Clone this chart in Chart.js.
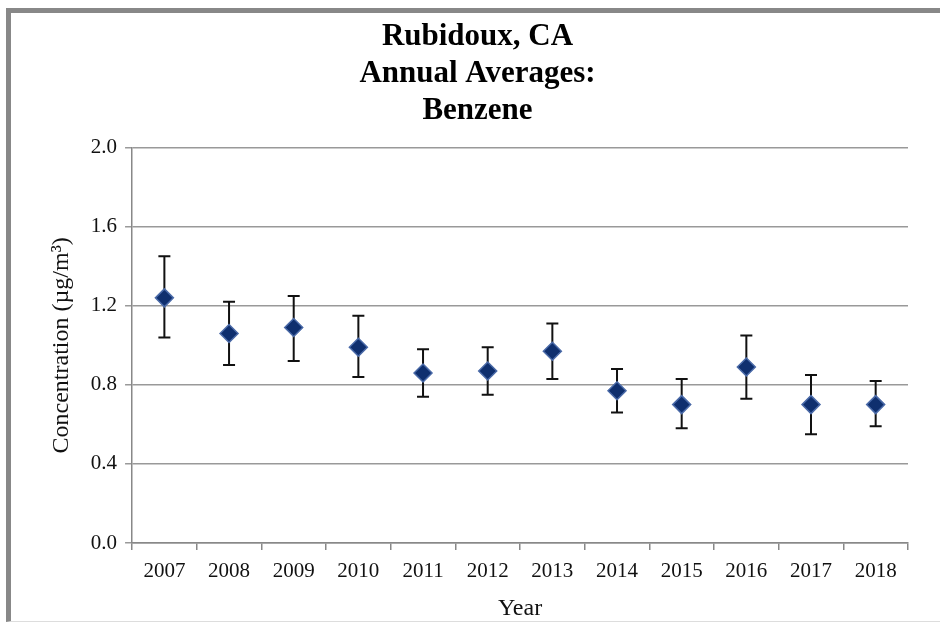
<!DOCTYPE html>
<html>
<head>
<meta charset="utf-8">
<script src="https://cdn.jsdelivr.net/npm/chart.js@4/dist/chart.umd.min.js"></script>
<style>
  html, body { margin: 0; padding: 0; background: #fff; }
  #frame {
    position: absolute; left: 6px; top: 8px; width: 934px; height: 614px;
    border-left: 5px solid #888; border-top: 5px solid #888;
    border-bottom: 1px solid #ddd; box-sizing: border-box;
  }
  #wrap { position: absolute; left: 0; top: 0; width: 940px; height: 626px; }
</style>
</head>
<body>
<div id="frame"></div>
<div id="wrap"><canvas id="myChart" width="940" height="626"></canvas></div>
<script>
// values
const years = ['2007', '2008', '2009', '2010', '2011', '2012', '2013', '2014', '2015', '2016', '2017', '2018'];
const means = [1.24, 1.06, 1.09, 0.99, 0.86, 0.87, 0.97, 0.77, 0.70, 0.89, 0.70, 0.70];
const lows  = [1.04, 0.90, 0.92, 0.84, 0.74, 0.75, 0.83, 0.66, 0.58, 0.73, 0.55, 0.59];
const highs = [1.45, 1.22, 1.25, 1.15, 0.98, 0.99, 1.11, 0.88, 0.83, 1.05, 0.85, 0.82];
const yTicks = [0, 0.4, 0.8, 1.2, 1.6, 2.0];

const serif = "'Liberation Serif', 'Times New Roman', serif";

// error bars, drawn under the diamonds
const errorBars = {
  id: 'errorBars',
  beforeDatasetsDraw(chart) {
    const ctx = chart.ctx;
    const y = chart.scales.y;
    const meta = chart.getDatasetMeta(0);
    ctx.save();
    ctx.strokeStyle = '#111';
    ctx.lineWidth = 2;
    meta.data.forEach(function(pt, i) {
      let x = pt.x;
      let yl = y.getPixelForValue(lows[i]);
      let yh = y.getPixelForValue(highs[i]);
      ctx.beginPath();
      ctx.moveTo(x, yh); ctx.lineTo(x, yl);
      ctx.moveTo(x - 6, yh); ctx.lineTo(x + 6, yh);
      ctx.moveTo(x - 6, yl); ctx.lineTo(x + 6, yl);
      ctx.stroke();
    });
    ctx.restore();
  }
};

const ctx = document.getElementById('myChart').getContext('2d');
const myChart = new Chart(ctx, {
  type: 'line',
  data: {
    labels: years,
    datasets: [{
      label: 'Benzene',
      data: means,
      showLine: false,
      pointStyle: 'rectRot',
      pointRadius: 9,
      pointHoverRadius: 9,
      pointBackgroundColor: '#0f2f6e',
      pointBorderColor: '#4a6aa8',
      pointBorderWidth: 1.5
    }]
  },
  options: {
    responsive: false,
    animation: false,
    events: [],
    layout: { padding: { top: 14, left: 47, right: 32, bottom: 3 } },
    scales: {
      x: {
        type: 'category',
        offset: true,
        grid: { display: true, offset: true, drawOnChartArea: false, color: '#888', lineWidth: 1.5, tickLength: 7 },
        border: { color: '#888', width: 1.5 },
        ticks: { color: '#111', font: { family: serif, size: 21 }, padding: 9, maxRotation: 0 },
        title: { display: true, text: 'Year', color: '#111', font: { family: serif, size: 24 }, padding: { top: 1, bottom: 0 } }
      },
      y: {
        min: 0,
        max: 2,
        afterBuildTicks: function(axis) { axis.ticks = yTicks.map(v => ({ value: v })); },
        grid: { color: '#999', lineWidth: 1.5, tickLength: 7 },
        border: { color: '#888', width: 1.5 },
        ticks: { color: '#111', font: { family: serif, size: 21 }, padding: 8, callback: v => v.toFixed(1) },
        title: { display: true, text: 'Concentration (µg/m³)', color: '#111', font: { family: serif, size: 24 }, padding: { top: 0, bottom: 7 } }
      }
    },
    plugins: {
      legend: { display: false },
      tooltip: { enabled: false },
      title: {
        display: true,
        text: ['Rubidoux, CA', 'Annual Averages:', 'Benzene'],
        color: '#000',
        font: { family: serif, size: 31, weight: 'bold', lineHeight: 1.2 },
        padding: { top: 4, bottom: 18 }
      }
    }
  },
  plugins: [errorBars]
});
</script>
</body>
</html>
